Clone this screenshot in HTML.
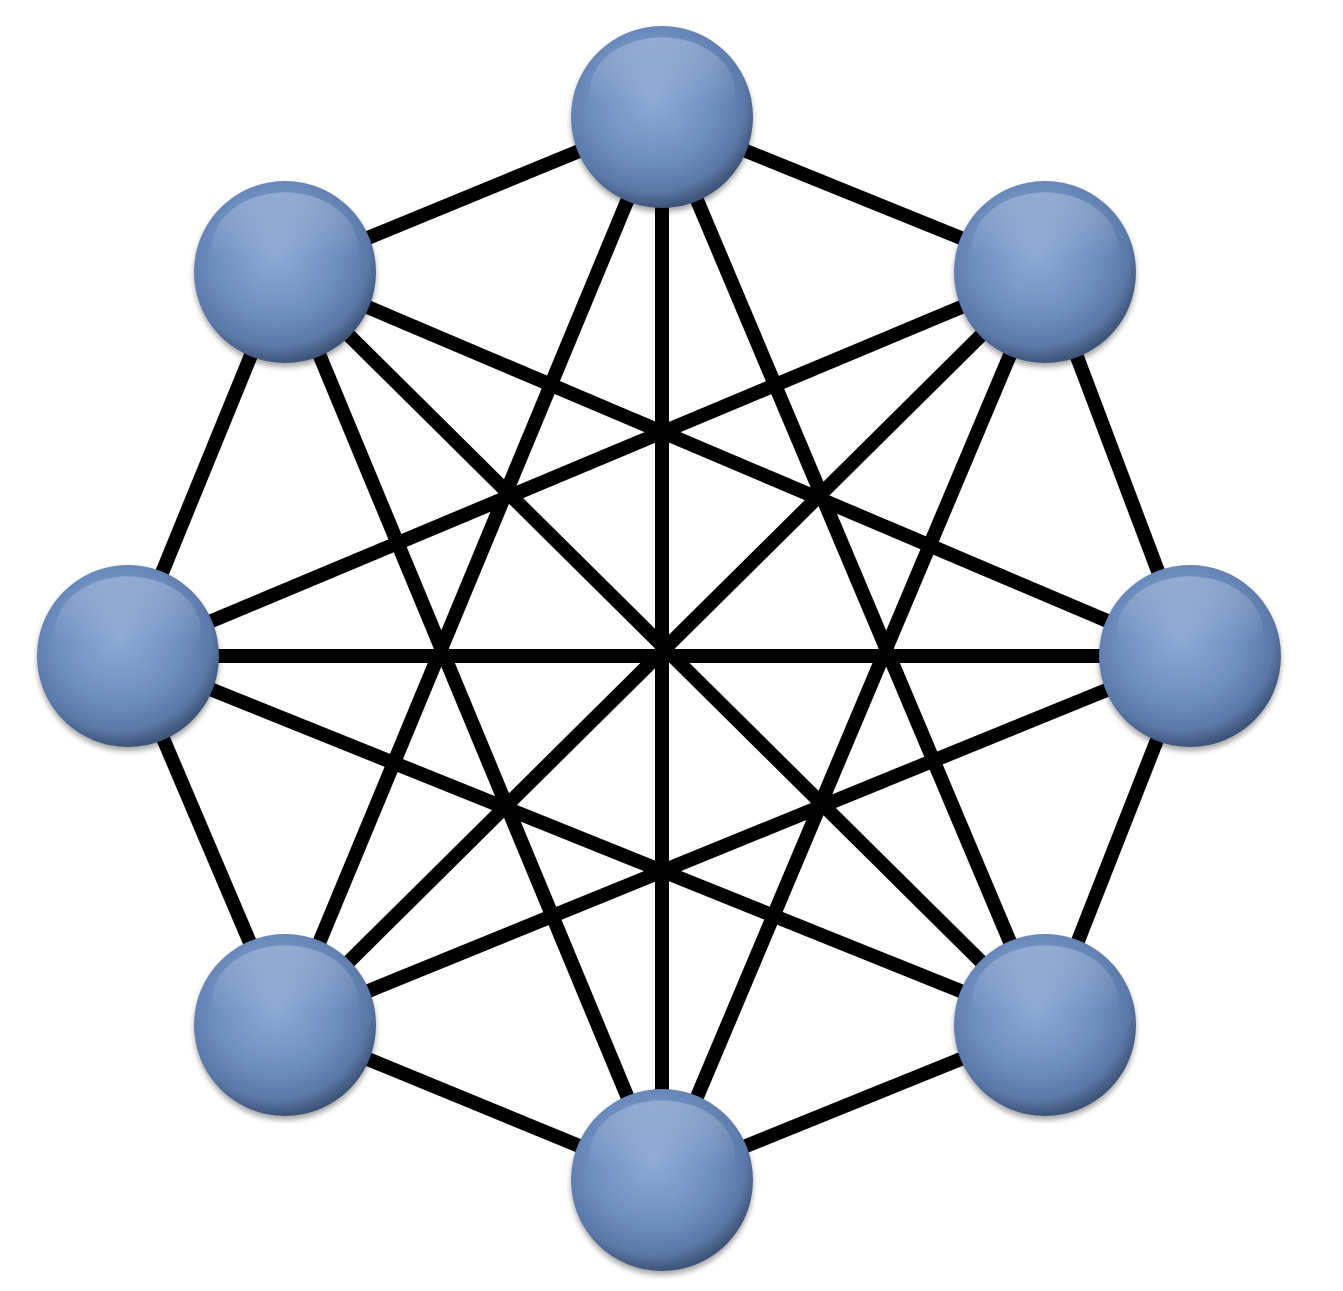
<!DOCTYPE html>
<html>
<head>
<meta charset="utf-8">
<style>
  html,body{margin:0;padding:0;background:#fff;}
  svg{display:block;}
</style>
</head>
<body>
<svg id="chart" width="1343" height="1291" viewBox="0 0 1343 1291" xmlns="http://www.w3.org/2000/svg">
  <defs>
    <radialGradient id="ball" cx="45%" cy="40%" r="60%">
      <stop offset="0%" stop-color="#8eaad6"/>
      <stop offset="55%" stop-color="#7090c2"/>
      <stop offset="85%" stop-color="#5b78a8"/>
      <stop offset="100%" stop-color="#3e5478"/>
    </radialGradient>
    <linearGradient id="shine" x1="0" y1="0" x2="0" y2="1">
      <stop offset="0%" stop-color="#ffffff" stop-opacity="0.25"/>
      <stop offset="60%" stop-color="#ffffff" stop-opacity="0"/>
    </linearGradient>
    <filter id="shadow" x="-20%" y="-20%" width="140%" height="140%">
      <feDropShadow dx="0" dy="4" stdDeviation="3" flood-color="#000" flood-opacity="0.35"/>
    </filter>
  </defs>
  <g id="edges"></g>
  <g id="nodesG"></g>
</svg>
<script>
const nodeNames = ["top","top-right","right","bottom-right","bottom","bottom-left","left","top-left"];
const nodeX = [662, 1045, 1190, 1045, 662, 285, 128, 285];
const nodeY = [117, 272, 656, 1025, 1180, 1025, 656, 272];
const connectedSteps = [1, 3, 4];
const nodes = nodeNames.map((n,i)=>({name:n,x:nodeX[i],y:nodeY[i]}));
const R = 91;
const NS = "http://www.w3.org/2000/svg";
const eg = document.getElementById('edges');
const ng = document.getElementById('nodesG');
const N = nodes.length;
for (let i=0;i<N;i++){
  for (let j=i+1;j<N;j++){
    const d = Math.min(j-i, N-(j-i));
    if (!connectedSteps.includes(d)) continue;
    const l = document.createElementNS(NS,'line');
    l.setAttribute('x1',nodes[i].x); l.setAttribute('y1',nodes[i].y);
    l.setAttribute('x2',nodes[j].x); l.setAttribute('y2',nodes[j].y);
    l.setAttribute('stroke','#000'); l.setAttribute('stroke-width','14');
    
    
    eg.appendChild(l);
  }
}
nodes.forEach(n=>{
  const g = document.createElementNS(NS,'g');
  
  
  const c = document.createElementNS(NS,'circle');
  c.setAttribute('cx',n.x); c.setAttribute('cy',n.y); c.setAttribute('r',R);
  c.setAttribute('fill','url(#ball)'); c.setAttribute('filter','url(#shadow)');
  g.appendChild(c);
  const s = document.createElementNS(NS,'ellipse');
  s.setAttribute('cx',n.x); s.setAttribute('cy',n.y-25);
  s.setAttribute('rx',R*0.8); s.setAttribute('ry',R*0.6);
  s.setAttribute('fill','url(#shine)');
  g.appendChild(s);
  ng.appendChild(g);
});
</script>
</body>
</html>
